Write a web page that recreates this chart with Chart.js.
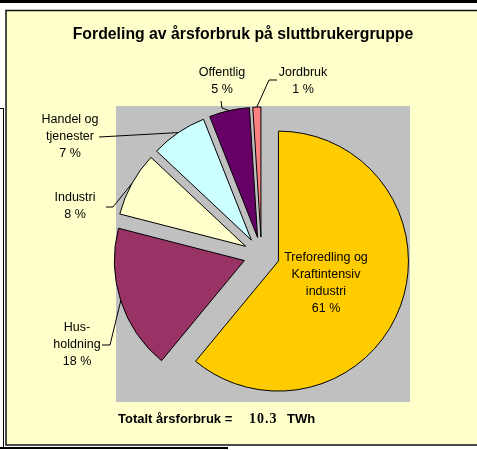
<!DOCTYPE html>
<html>
<head>
<meta charset="utf-8">
<script src="https://cdn.jsdelivr.net/npm/chart.js@4.4.0/dist/chart.umd.min.js"></script>
<style>
html, body { margin: 0; padding: 0; background: #fff; }
#wrap { width: 477px; height: 450px; }
</style>
</head>
<body>
<div id="wrap"><canvas id="pie" width="477" height="450"></canvas></div>
<script>
// chart data
const titleText = "Fordeling av årsforbruk på sluttbrukergruppe";
const groups = [
  ["Treforedling og", "Kraftintensiv", "industri"],
  ["Hus-", "holdning"],
  ["Industri"],
  ["Handel og", "tjenester"],
  ["Offentlig"],
  ["Jordbruk"]
];
const shares = [61, 18, 8, 7, 5, 1];
const totalLabel = "Totalt årsforbruk =";
const totalValue = "10.3";
const totalUnit = "TWh";

const sliceColors = ["#FFCC00", "#993366", "#FFFFCC", "#CCFFFF", "#660066", "#FF8080"];

// label spots (px) and the bends of the leader lines
const labelSpots = [
  { x: 326, y: 258, bends: null },
  { x: 77, y: 328, bends: [[102, 345], [110, 345]] },
  { x: 75, y: 198, bends: [[106, 207], [113, 207]] },
  { x: 70, y: 120, bends: [[99, 137]] },
  { x: 222, y: 73, bends: [[221, 101], [222, 108]] },
  { x: 303, y: 73, bends: [[277, 80], [269, 80]] }
];
const EXPLODE = 18;
const FONT = '"Liberation Sans", Arial, sans-serif';

// background: page edges, yellow frame, grey plot box, title, total line
const frame = {
  id: "frame",
  beforeDraw(chart) {
    const ctx = chart.ctx;
    ctx.save();
    ctx.fillStyle = "#fff";
    ctx.fillRect(0, 0, 477, 450);

    ctx.fillStyle = "#000";
    ctx.fillRect(0, 0, 477, 3);
    ctx.fillRect(3, 108, 1, 340);
    ctx.fillRect(0, 108, 4, 1);
    ctx.fillRect(0, 447, 228, 2);

    ctx.fillStyle = "#FFFFCC";
    ctx.fillRect(6, 10, 471, 435);
    ctx.strokeStyle = "#111";
    ctx.lineWidth = 1.5;
    ctx.strokeRect(6, 10.5, 480, 434.5);

    ctx.fillStyle = "#C0C0C0";
    ctx.fillRect(116, 106, 294, 296);

    ctx.fillStyle = "#000";
    ctx.textBaseline = "alphabetic";
    ctx.textAlign = "center";
    ctx.font = "bold 15.8px " + FONT;
    ctx.fillText(titleText, 243, 39);

    ctx.textAlign = "left";
    ctx.font = "bold 13px " + FONT;
    ctx.fillText(totalLabel, 118, 423);
    ctx.font = 'bold 14px "Liberation Serif", "Times New Roman", serif';
    ctx.letterSpacing = "1px";
    ctx.fillText(totalValue, 249, 423);
    ctx.letterSpacing = "0px";
    ctx.font = "bold 13px " + FONT;
    ctx.fillText(totalUnit, 287, 423);
    ctx.restore();
  }
};

// pull every slice out from the centre, then put the labels on
const explode = {
  id: "explode",
  beforeDatasetDraw(chart, args) {
    const ctx = chart.ctx;
    args.meta.data.forEach(arc => {
      const mid = (arc.startAngle + arc.endAngle) / 2;
      ctx.save();
      ctx.translate(Math.cos(mid) * EXPLODE, Math.sin(mid) * EXPLODE);
      arc.draw(ctx);
      ctx.restore();
    });
    return false;
  },
  afterDatasetsDraw(chart) {
    const ctx = chart.ctx;
    const arcs = chart.getDatasetMeta(0).data;
    ctx.save();
    ctx.font = "12.5px " + FONT;
    ctx.textAlign = "center";
    ctx.textBaseline = "middle";
    ctx.fillStyle = "#000";
    ctx.strokeStyle = "#000";
    ctx.lineWidth = 1;
    arcs.forEach((arc, i) => {
      const spot = labelSpots[i];
      const lines = groups[i].concat(shares[i] + " %");
      lines.forEach((t, k) => ctx.fillText(t, spot.x, spot.y + k * 17));
      if (!spot.bends) return;
      const mid = (arc.startAngle + arc.endAngle) / 2;
      const d = arc.outerRadius + EXPLODE;
      ctx.beginPath();
      ctx.moveTo(spot.bends[0][0], spot.bends[0][1]);
      spot.bends.slice(1).forEach(p => ctx.lineTo(p[0], p[1]));
      ctx.lineTo(arc.x + Math.cos(mid) * d, arc.y + Math.sin(mid) * d);
      ctx.stroke();
    });
    ctx.restore();
  }
};

new Chart(document.getElementById("pie"), {
  type: "pie",
  data: {
    labels: groups.map(g => g.join(" ")),
    datasets: [{
      data: shares,
      backgroundColor: sliceColors,
      borderColor: "#000",
      borderWidth: 1,
      borderJoinStyle: "miter"
    }]
  },
  options: {
    responsive: false,
    animation: false,
    events: [],
    layout: { padding: { left: 131, top: 124.5, right: 85, bottom: 64.5 } },
    plugins: {
      legend: { display: false },
      tooltip: { enabled: false }
    }
  },
  plugins: [frame, explode]
});
</script>
</body>
</html>
